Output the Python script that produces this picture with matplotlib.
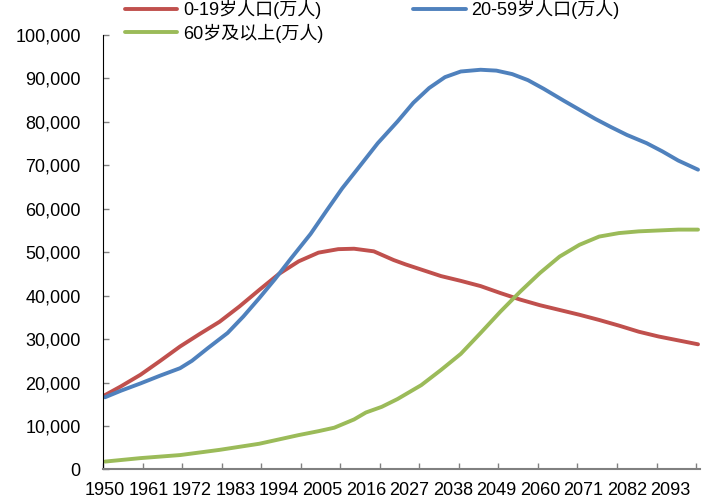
import matplotlib
matplotlib.use("Agg")
import matplotlib.pyplot as plt
import matplotlib.ticker as ticker
import numpy as np

# ── data (values in 万人) ─────────────────────────────────────────────
years_0_19 = [1950, 1954, 1959, 1964, 1969, 1974, 1979, 1984, 1989, 1994,
              1999, 2004, 2009, 2013, 2018, 2023, 2026, 2030, 2035, 2040,
              2045, 2050, 2055, 2060, 2065, 2070, 2075, 2080, 2085, 2090,
              2095, 2100]
age_0_19 = [17100, 19100, 21800, 25000, 28300, 31200, 34000, 37500, 41300, 45000,
            47900, 49900, 50700, 50800, 50200, 48200, 47200, 46000, 44500, 43400,
            42200, 40600, 39100, 37800, 36700, 35600, 34400, 33100, 31700, 30600,
            29700, 28800]

years_20_59 = [1950, 1954, 1959, 1964, 1969, 1972, 1976, 1981, 1985, 1989,
               1993, 1997, 2002, 2006, 2010, 2014, 2019, 2024, 2028, 2032,
               2036, 2040, 2045, 2049, 2053, 2057, 2061, 2066, 2070, 2074,
               2078, 2082, 2087, 2091, 2095, 2100]
age_20_59 = [16600, 18100, 19800, 21600, 23300, 25000, 27900, 31400, 35200, 39400,
             43800, 48500, 54200, 59500, 64700, 69300, 75100, 80100, 84400, 87800,
             90300, 91600, 92000, 91800, 91000, 89600, 87600, 84900, 82800, 80700,
             78800, 77000, 75100, 73200, 71100, 69000]

years_60_plus = [1950, 1959, 1969, 1979, 1989, 1999, 2004, 2008, 2013, 2016,
                 2020, 2024, 2030, 2035, 2040, 2045, 2050, 2055, 2060, 2065,
                 2070, 2075, 2080, 2085, 2090, 2095, 2100]
age_60_plus = [1800, 2600, 3300, 4500, 5900, 7900, 8800, 9600, 11500, 13100,
               14400, 16200, 19400, 22900, 26600, 31400, 36300, 40900, 45200, 49000,
               51700, 53600, 54400, 54800, 55000, 55200, 55200]

series_names = ["0-19岁人口(万人)", "20-59岁人口(万人)", "60岁及以上(万人)"]
series_colors = ["#C0504D", "#4F81BD", "#9BBB59"]

tick_years = list(range(1950, 2101, 10))       # tick marks every 10 years
label_years = list(range(1950, 2094, 11))      # labels every 11 years

plt.rcParams["font.family"] = ["Liberation Sans", "Noto Sans CJK SC", "DejaVu Sans"]
FS = 13

fig = plt.figure(figsize=(7.09, 5.04), dpi=100)
ax = fig.add_axes([103 / 709, 1 - 469.4 / 504, 597 / 709, 434.4 / 504])

lines = []
for yrs, vals, name, col in zip([years_0_19, years_20_59, years_60_plus],
                                [age_0_19, age_20_59, age_60_plus],
                                series_names, series_colors):
    x = np.array(yrs) - 1950
    ln, = ax.plot(x, vals, color=col, linewidth=2.8, label=name,
                  solid_capstyle="round", solid_joinstyle="round")
    lines.append(ln)

# category-style axis: each year occupies one slot
ax.set_xlim(-0.5, 150.5)
ax.set_ylim(0, 100000)

ax.set_xticks([y - 1950 - 0.5 for y in tick_years])
ax.set_xticklabels([])
ax.set_xticks([y - 1950 for y in label_years], minor=True)
ax.set_xticklabels([str(y) for y in label_years], minor=True, fontsize=FS)
ax.tick_params(axis="x", which="major", direction="in", length=4, width=1, color="#808080")
ax.tick_params(axis="x", which="minor", length=0, pad=9)

ax.yaxis.set_major_locator(ticker.MultipleLocator(10000))
ax.yaxis.set_major_formatter(ticker.FuncFormatter(lambda v, p: f"{v:,.0f}"))
ax.tick_params(axis="y", direction="in", length=4, width=1, color="#808080",
               labelsize=FS, pad=16)

for s in ["top", "right"]:
    ax.spines[s].set_visible(False)
ax.spines["left"].set_linewidth(0.8)
ax.spines["left"].set_color("black")
ax.spines["bottom"].set_linewidth(1.5)
ax.spines["bottom"].set_color("#808080")

handles = [lines[0], lines[2], lines[1]]
fig.legend(handles, [h.get_label() for h in handles], ncol=2,
           loc="upper left", bbox_to_anchor=(125 / 709, 1.0),
           frameon=False, fontsize=FS, handlelength=2.9, handletextpad=0.3,
           columnspacing=5.0, labelspacing=0.25, borderpad=0, borderaxespad=0)

fig.savefig("out.png", dpi=100)
